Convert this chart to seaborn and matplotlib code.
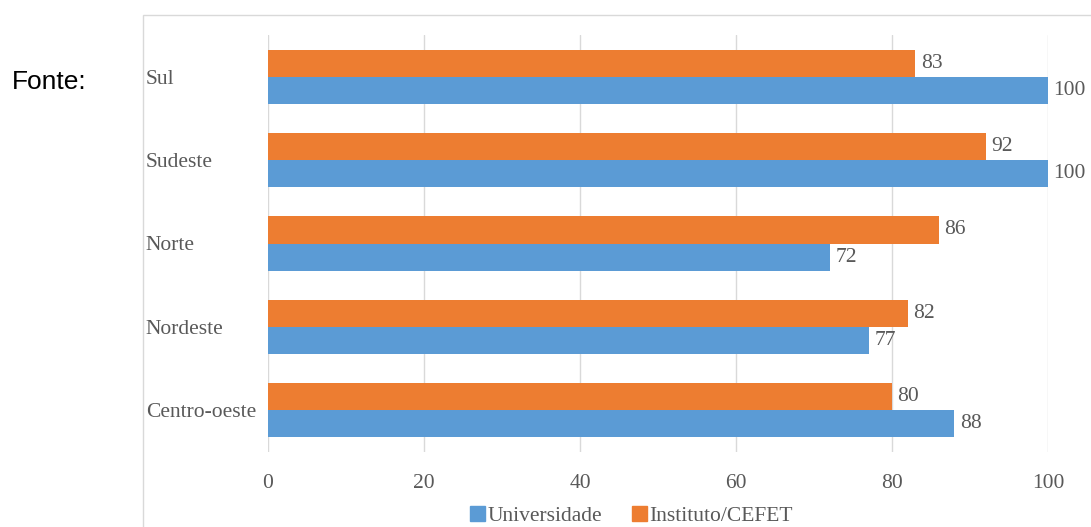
import pandas as pd
import matplotlib
matplotlib.use('Agg')
import matplotlib.pyplot as plt
import seaborn as sns
from matplotlib.patches import Patch, Rectangle

# Data
regions = ['Sul', 'Sudeste', 'Norte', 'Nordeste', 'Centro-oeste']
instituto = [83, 92, 86, 82, 80]
universidade = [100, 100, 72, 77, 88]
series = ['Instituto/CEFET', 'Universidade']
colors = {'Instituto/CEFET': '#ED7D31', 'Universidade': '#5B9BD5'}
xticks = [0, 20, 40, 60, 80, 100]

df = pd.DataFrame({
    'Regiao': regions * 2,
    'Valor': instituto + universidade,
    'Tipo': [series[0]] * len(regions) + [series[1]] * len(regions),
})

sns.set_style('white')
plt.rcParams['font.family'] = ['Liberation Serif', 'DejaVu Serif']
fs = 15.5
gray = '#595959'

fig = plt.figure(figsize=(10.91, 5.27), dpi=100)
ax = fig.add_axes([268 / 1091, 1 - 452 / 527, 780 / 1091, 417 / 527])

sns.barplot(data=df, y='Regiao', x='Valor', hue='Tipo', order=regions,
            hue_order=series, palette=colors, orient='h', width=0.65,
            gap=0, saturation=1, linewidth=0, legend=False, ax=ax)

for c in ax.containers:
    ax.bar_label(c, fmt='%d', padding=4, fontsize=fs, color=gray)

ax.set_xlim(0, 100)
ax.set_ylim(len(regions) - 0.5, -0.5)
ax.set_xticks(xticks)
ax.set_xlabel('')
ax.set_ylabel('')
ax.grid(axis='x', color='#d9d9d9', linewidth=1)
ax.set_axisbelow(True)
for s in ax.spines.values():
    s.set_visible(False)
ax.tick_params(axis='x', length=0, pad=16, labelsize=fs, labelcolor=gray)
ax.tick_params(axis='y', length=0, pad=88, labelsize=fs, labelcolor=gray)
for t in ax.get_yticklabels():
    t.set_ha('left')

# legend (Universidade first)
handles = [Patch(color=colors['Universidade'], label='Universidade'),
           Patch(color=colors['Instituto/CEFET'], label='Instituto/CEFET')]
leg = fig.legend(handles=handles, loc='center', bbox_to_anchor=(0.579, 0.02),
                 ncol=2, frameon=False, fontsize=fs, handlelength=0.7,
                 handleheight=0.7, handletextpad=0.1, columnspacing=1.4,
                 borderpad=0)
for t in leg.get_texts():
    t.set_color(gray)

# outer chart border
fig.patches.append(Rectangle((143 / 1091, -0.1), 1.0, 1 - 15 / 527 + 0.1,
                             transform=fig.transFigure, fill=False,
                             edgecolor='#d9d9d9', linewidth=1))

fig.text(12 / 1091, 1 - 82 / 527, 'Fonte:', family='Liberation Sans',
         fontsize=19, color='black', va='center', ha='left')

fig.savefig('out.png', dpi=100)
